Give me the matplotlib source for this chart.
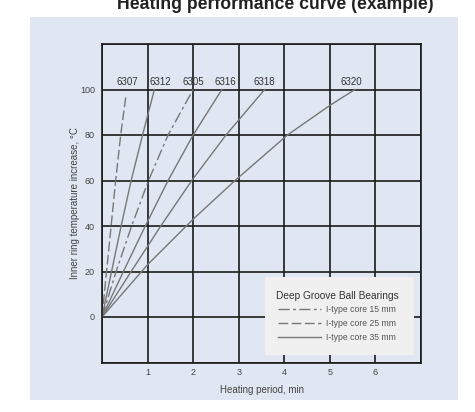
import matplotlib.pyplot as plt
from matplotlib.lines import Line2D
from matplotlib.patches import Rectangle

# values
t_6307 = [0, 0.10, 0.20, 0.30, 0.41, 0.53]
T_6307 = [0, 20, 40, 60, 80, 98]
t_6312 = [0, 0.21, 0.42, 0.64, 0.89, 1.15]
T_6312 = [0, 20, 40, 60, 80, 100]
t_6305 = [0, 0.31, 0.65, 1.02, 1.45, 2.0]
T_6305 = [0, 20, 40, 60, 80, 100]
t_6316 = [0, 0.47, 0.95, 1.45, 2.0, 2.63]
T_6316 = [0, 20, 40, 60, 80, 100]
t_6318 = [0, 0.64, 1.29, 1.97, 2.72, 3.57]
T_6318 = [0, 20, 40, 60, 80, 100]
t_6320 = [0, 1.0, 2.0, 2.92, 4.07, 5.0, 5.55]
T_6320 = [0, 23, 43, 60, 80, 93, 100]

labels = ['6307', '6312', '6305', '6316', '6318', '6320']
label_x = [0.56, 1.29, 2.0, 2.7, 3.57, 5.47]

legend_labels = ['I-type core 15 mm', 'I-type core 25 mm', 'I-type core 35 mm']

x_ticks = [0, 1, 2, 3, 4, 5, 6, 7]
x_ticklabels = ['', '1', '2', '3', '4', '5', '6', '']
y_ticks = [-20, 0, 20, 40, 60, 80, 100, 120]
y_ticklabels = ['', '0', '20', '40', '60', '80', '100', '']


def main():
    plt.rcParams['font.family'] = ['Liberation Sans', 'DejaVu Sans']
    fig = plt.figure(figsize=(4.75, 4.12), dpi=100)
    fig.patch.set_facecolor('white')

    # light blue panel behind the chart
    bg = fig.add_axes([30 / 475, 1 - 400 / 412, 428 / 475, 383 / 412], zorder=-1)
    bg.set_facecolor('#e0e6f2')
    bg.set_xticks([])
    bg.set_yticks([])
    for s in bg.spines.values():
        s.set_visible(False)

    fig.text(0.580, 1 - 9 / 412, 'Heating performance curve (example)',
             ha='center', va='baseline', fontsize=12.7, fontweight='bold', color='#222222')

    ax = fig.add_axes([102 / 475, 1 - 362.5 / 412, 319 / 475, 318.5 / 412], zorder=1)
    ax.set_facecolor('#e0e6f2')
    ax.set_xlim(0, 7)
    ax.set_ylim(-20, 120)
    ax.set_xticks(x_ticks, labels=x_ticklabels)
    ax.set_yticks(y_ticks, labels=y_ticklabels)
    ax.tick_params(length=0, labelsize=6.5, labelcolor='#444444')
    ax.tick_params(axis='y', pad=5)
    ax.tick_params(axis='x', pad=4)
    ax.grid(True, color='#1a1a1a', lw=1.2)
    ax.set_axisbelow(True)
    for s in ax.spines.values():
        s.set_color('#1a1a1a')
        s.set_linewidth(1.2)

    c = '#777777'
    dash25 = (0, (7, 2.5))
    dash15 = (0, (8, 2.5, 2, 2.5))
    ax.plot(t_6307, T_6307, color=c, lw=1.0, ls=dash25)
    ax.plot(t_6312, T_6312, color=c, lw=1.0)
    ax.plot(t_6305, T_6305, color=c, lw=1.0, ls=dash15)
    ax.plot(t_6316, T_6316, color=c, lw=1.0)
    ax.plot(t_6318, T_6318, color=c, lw=1.0)
    ax.plot(t_6320, T_6320, color=c, lw=1.0)

    for lab, x in zip(labels, label_x):
        ax.text(x, 103.2, lab, ha='center', va='center', fontsize=7, color='#333333')

    ax.set_xlabel('Heating period, min', fontsize=7, color='#444444', labelpad=6)
    ax.set_ylabel('Inner ring temperature increase, \u00b0C', fontsize=7,
                  color='#444444', labelpad=0)

    # legend box
    ax.add_patch(Rectangle((0.511, 0.024), 0.467, 0.245, transform=ax.transAxes,
                           facecolor='#f0f0f0', edgecolor='none', zorder=3))
    handles = [Line2D([], [], color=c, lw=1.0, ls=dash15),
               Line2D([], [], color=c, lw=1.0, ls=dash25),
               Line2D([], [], color=c, lw=1.0)]
    leg = ax.legend(handles, legend_labels, title='Deep Groove Ball Bearings',
                    loc='upper left', bbox_to_anchor=(0.52, 0.25), frameon=False,
                    fontsize=6.2, title_fontsize=7.3, handlelength=5.0,
                    labelspacing=0.55, handletextpad=0.5)
    leg.set_zorder(4)
    for t in leg.get_texts():
        t.set_color('#555555')
    leg.get_title().set_color('#333333')

    fig.savefig('out.png', dpi=100)


if __name__ == "__main__":
    main()
